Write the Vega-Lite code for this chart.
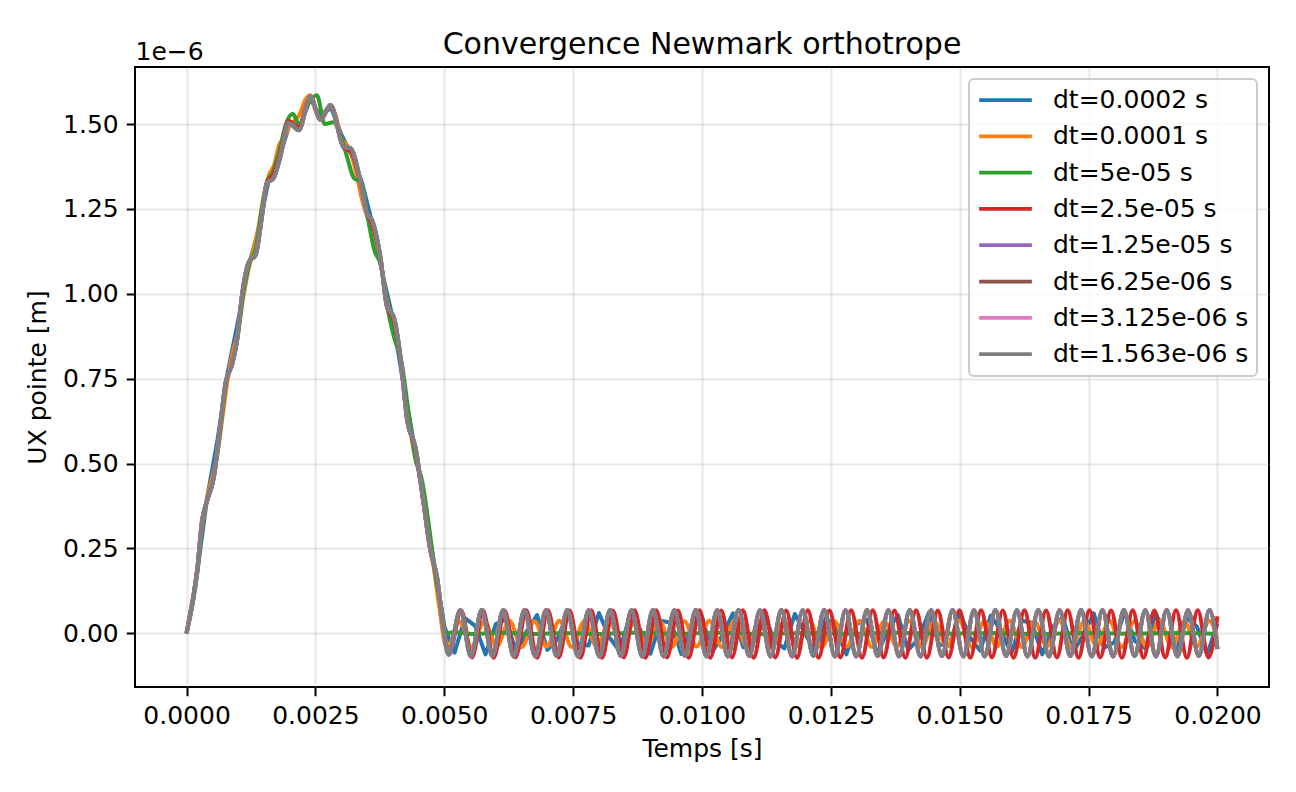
{
"$schema": "https://vega.github.io/schema/vega-lite/v6.json",
"width": 1134, "height": 620,
"autosize": {"type": "none"},
"padding": {"left": 135, "top": 67, "right": 27, "bottom": 105},
"background": "white",
"title": {"text": "Convergence Newmark orthotrope", "fontSize": 30, "font": "DejaVu Sans", "fontWeight": "normal", "color": "black", "offset": -45, "baseline": "alphabetic", "anchor": "middle"},
"datasets": {
"blue": [
{"t":0,"v":0},{"t":0.0002,"v":0.17},{"t":0.0004,"v":0.4},{"t":0.0006,"v":0.57},{"t":0.0008,"v":0.77},{"t":0.001,"v":0.92},{"t":0.0012,"v":1.08},{"t":0.0014,"v":1.19},{"t":0.0016,"v":1.34},{"t":0.0018,"v":1.4},{"t":0.002,"v":1.5},{"t":0.0022,"v":1.49},{"t":0.0024,"v":1.575},{"t":0.0026,"v":1.52},{"t":0.0028,"v":1.55},{"t":0.003,"v":1.47},{"t":0.0032,"v":1.41},{"t":0.0034,"v":1.33},{"t":0.0036,"v":1.21},{"t":0.0038,"v":1.06},{"t":0.004,"v":0.93},{"t":0.0042,"v":0.74},{"t":0.0044,"v":0.57},{"t":0.0046,"v":0.39},{"t":0.0048,"v":0.21},{"t":0.005,"v":0.02},
{"t":0.0052,"v":-0.057},{"t":0.0054,"v":0.045},{"t":0.0056,"v":0.022},{"t":0.0058,"v":-0.062},{"t":0.006,"v":0.027},{"t":0.0062,"v":0.041},{"t":0.0064,"v":-0.059},{"t":0.0066,"v":0.006},{"t":0.0068,"v":0.054},{"t":0.007,"v":-0.049},
{"t":0.0072,"v":-0.016},{"t":0.0074,"v":0.061},{"t":0.0076,"v":-0.032},{"t":0.0078,"v":-0.036},{"t":0.008,"v":0.06},{"t":0.0082,"v":-0.011},{"t":0.0084,"v":-0.052},{"t":0.0086,"v":0.052},{"t":0.0088,"v":0.011},{"t":0.009,"v":-0.06},
{"t":0.0092,"v":0.037},{"t":0.0094,"v":0.031},{"t":0.0096,"v":-0.061},{"t":0.0098,"v":0.017},{"t":0.01,"v":0.048},{"t":0.0102,"v":-0.055},{"t":0.0104,"v":-0.005},{"t":0.0106,"v":0.059},{"t":0.0108,"v":-0.041},{"t":0.011,"v":-0.026},
{"t":0.0112,"v":0.062},{"t":0.0114,"v":-0.022},{"t":0.0116,"v":-0.044},{"t":0.0118,"v":0.057},{"t":0.012,"v":-0.001},{"t":0.0122,"v":-0.057},{"t":0.0124,"v":0.045},{"t":0.0126,"v":0.021},{"t":0.0128,"v":-0.062},{"t":0.013,"v":0.028},
{"t":0.0132,"v":0.04},{"t":0.0134,"v":-0.059},{"t":0.0136,"v":0.006},{"t":0.0138,"v":0.054},{"t":0.014,"v":-0.049},{"t":0.0142,"v":-0.016},{"t":0.0144,"v":0.061},{"t":0.0146,"v":-0.033},{"t":0.0148,"v":-0.036},{"t":0.015,"v":0.061},
{"t":0.0152,"v":-0.012},{"t":0.0154,"v":-0.051},{"t":0.0156,"v":0.052},{"t":0.0158,"v":0.01},{"t":0.016,"v":-0.06},{"t":0.0162,"v":0.037},{"t":0.0164,"v":0.031},{"t":0.0166,"v":-0.062},{"t":0.0168,"v":0.018},{"t":0.017,"v":0.048},
{"t":0.0172,"v":-0.055},{"t":0.0174,"v":-0.004},{"t":0.0176,"v":0.059},{"t":0.0178,"v":-0.042},{"t":0.018,"v":-0.026},{"t":0.0182,"v":0.062},{"t":0.0184,"v":-0.023},{"t":0.0186,"v":-0.044},{"t":0.0188,"v":0.058},{"t":0.019,"v":-0.001},
{"t":0.0192,"v":-0.056},{"t":0.0194,"v":0.046},{"t":0.0196,"v":0.02},{"t":0.0198,"v":-0.062},{"t":0.02,"v":0.028}
],
"orange": [
{"t":0,"v":0},{"t":0.0002,"v":0.18},{"t":0.0003,"v":0.31},{"t":0.0004,"v":0.4},{"t":0.0005,"v":0.46},{"t":0.0006,"v":0.53},{"t":0.0007,"v":0.64},{"t":0.0008,"v":0.75},{"t":0.0009,"v":0.83},{"t":0.001,"v":0.89},{"t":0.0011,"v":0.99},{"t":0.0012,"v":1.07},{"t":0.0013,"v":1.13},{"t":0.0014,"v":1.2},{"t":0.0015,"v":1.29},{"t":0.0016,"v":1.35},{"t":0.0017,"v":1.38},{"t":0.0018,"v":1.44},{"t":0.0019,"v":1.46},{"t":0.002,"v":1.5},{"t":0.0021,"v":1.51},{"t":0.0022,"v":1.53},{"t":0.0023,"v":1.57},{"t":0.0024,"v":1.585},{"t":0.0025,"v":1.54},{"t":0.0026,"v":1.52},{"t":0.0027,"v":1.54},{"t":0.0028,"v":1.55},{"t":0.0029,"v":1.52},{"t":0.003,"v":1.46},{"t":0.0031,"v":1.44},{"t":0.0032,"v":1.41},{"t":0.0033,"v":1.35},{"t":0.0034,"v":1.28},{"t":0.0035,"v":1.23},{"t":0.0036,"v":1.2},{"t":0.0037,"v":1.14},{"t":0.0038,"v":1.06},{"t":0.0039,"v":0.97},{"t":0.004,"v":0.92},{"t":0.0041,"v":0.86},{"t":0.0042,"v":0.75},{"t":0.0043,"v":0.63},{"t":0.0044,"v":0.55},{"t":0.0045,"v":0.49},{"t":0.0046,"v":0.38},{"t":0.0047,"v":0.27},{"t":0.0048,"v":0.19},{"t":0.0049,"v":0.08},
{"t":0.00505,"v":-0.045},{"t":0.005293,"v":0.034},{"t":0.005535,"v":-0.04},{"t":0.005778,"v":0.036},{"t":0.00602,"v":-0.039},{"t":0.006263,"v":0.037},{"t":0.006505,"v":-0.04},{"t":0.006748,"v":0.036},{"t":0.00699,"v":-0.039},{"t":0.007233,"v":0.037},
{"t":0.007475,"v":-0.04},{"t":0.007718,"v":0.036},{"t":0.00796,"v":-0.039},{"t":0.008203,"v":0.037},{"t":0.008445,"v":-0.04},{"t":0.008688,"v":0.036},{"t":0.00893,"v":-0.039},{"t":0.009173,"v":0.037},{"t":0.009415,"v":-0.04},{"t":0.009658,"v":0.036},
{"t":0.0099,"v":-0.039},{"t":0.010143,"v":0.037},{"t":0.010385,"v":-0.04},{"t":0.010628,"v":0.036},{"t":0.01087,"v":-0.039},{"t":0.011113,"v":0.037},{"t":0.011355,"v":-0.04},{"t":0.011598,"v":0.036},{"t":0.01184,"v":-0.039},{"t":0.012083,"v":0.037},
{"t":0.012325,"v":-0.04},{"t":0.012568,"v":0.036},{"t":0.01281,"v":-0.039},{"t":0.013053,"v":0.037},{"t":0.013295,"v":-0.04},{"t":0.013538,"v":0.036},{"t":0.01378,"v":-0.039},{"t":0.014023,"v":0.037},{"t":0.014265,"v":-0.04},{"t":0.014508,"v":0.036},
{"t":0.01475,"v":-0.039},{"t":0.014993,"v":0.037},{"t":0.015235,"v":-0.04},{"t":0.015478,"v":0.036},{"t":0.01572,"v":-0.039},{"t":0.015963,"v":0.037},{"t":0.016205,"v":-0.04},{"t":0.016448,"v":0.036},{"t":0.01669,"v":-0.039},{"t":0.016933,"v":0.037},
{"t":0.017175,"v":-0.04},{"t":0.017418,"v":0.036},{"t":0.01766,"v":-0.039},{"t":0.017903,"v":0.037},{"t":0.018145,"v":-0.04},{"t":0.018388,"v":0.036},{"t":0.01863,"v":-0.039},{"t":0.018873,"v":0.037},{"t":0.019115,"v":-0.04},{"t":0.019358,"v":0.036},
{"t":0.0196,"v":-0.039},{"t":0.019843,"v":0.037},{"t":0.02,"v":-0.017}
],
"green": [
{"t":0,"v":0},{"t":0.00021,"v":0.18},{"t":0.00031,"v":0.33},{"t":0.00041,"v":0.4},{"t":0.00054,"v":0.47},{"t":0.00064,"v":0.58},{"t":0.00077,"v":0.74},{"t":0.0009,"v":0.8},{"t":0.001,"v":0.88},{"t":0.0011,"v":1.0},{"t":0.00122,"v":1.09},{"t":0.00134,"v":1.13},{"t":0.00146,"v":1.25},{"t":0.00156,"v":1.33},{"t":0.00168,"v":1.36},{"t":0.0018,"v":1.42},{"t":0.00193,"v":1.5},{"t":0.00206,"v":1.53},{"t":0.00218,"v":1.5},{"t":0.00238,"v":1.565},{"t":0.00253,"v":1.585},{"t":0.00268,"v":1.5},{"t":0.00285,"v":1.505},{"t":0.00298,"v":1.47},{"t":0.00312,"v":1.4},{"t":0.00325,"v":1.34},{"t":0.00338,"v":1.33},{"t":0.00352,"v":1.22},{"t":0.00364,"v":1.13},{"t":0.00378,"v":1.08},{"t":0.00391,"v":0.95},{"t":0.00403,"v":0.87},{"t":0.00417,"v":0.8},{"t":0.0043,"v":0.66},{"t":0.00443,"v":0.52},{"t":0.00457,"v":0.45},{"t":0.0047,"v":0.32},{"t":0.00483,"v":0.17},{"t":0.00495,"v":0.07},{"t":0.00503,"v":0.0},
{"t":0.0052,"v":0.003},{"t":0.0056,"v":-0.002},{"t":0.0061,"v":0.002},{"t":0.0067,"v":-0.002},{"t":0.0073,"v":0.001},{"t":0.008,"v":-0.002},{"t":0.0087,"v":0.002},{"t":0.0095,"v":-0.001},{"t":0.0103,"v":0.002},{"t":0.0111,"v":-0.002},{"t":0.012,"v":0.001},{"t":0.0129,"v":-0.001},{"t":0.0138,"v":0.002},{"t":0.0147,"v":-0.001},{"t":0.0156,"v":0.001},{"t":0.0165,"v":-0.002},{"t":0.0174,"v":0.001},{"t":0.0183,"v":-0.001},{"t":0.0192,"v":0.001},{"t":0.02,"v":-0.001}
],
"red": [
{"t":0,"v":0},{"t":0.00021,"v":0.19},{"t":0.0003,"v":0.33},{"t":0.0004,"v":0.39},{"t":0.00053,"v":0.46},{"t":0.00063,"v":0.58},{"t":0.00076,"v":0.74},{"t":0.00088,"v":0.79},{"t":0.00098,"v":0.865},{"t":0.00108,"v":1.0},{"t":0.00121,"v":1.095},{"t":0.00134,"v":1.115},{"t":0.00147,"v":1.235},{"t":0.00156,"v":1.33},{"t":0.00168,"v":1.35},{"t":0.00181,"v":1.41},{"t":0.00198,"v":1.51},{"t":0.00217,"v":1.49},{"t":0.0024,"v":1.58},{"t":0.0026,"v":1.515},{"t":0.0028,"v":1.555},{"t":0.00305,"v":1.43},{"t":0.00318,"v":1.42},{"t":0.00337,"v":1.33},{"t":0.0035,"v":1.24},{"t":0.0036,"v":1.205},{"t":0.00376,"v":1.105},{"t":0.00389,"v":0.96},{"t":0.00402,"v":0.92},{"t":0.00415,"v":0.81},{"t":0.00428,"v":0.63},{"t":0.00444,"v":0.54},{"t":0.0046,"v":0.38},{"t":0.00473,"v":0.245},{"t":0.00486,"v":0.16},{"t":0.00499,"v":0.01},{"t":0.00509,"v":-0.063},
{"t":0.00533,"v":0.067},{"t":0.00554,"v":-0.071},{"t":0.00575,"v":0.068},{"t":0.00596,"v":-0.072},{"t":0.00617,"v":0.067},{"t":0.00638,"v":-0.071},{"t":0.006591,"v":0.068},{"t":0.006801,"v":-0.072},{"t":0.007011,"v":0.068},{"t":0.007221,"v":-0.071},
{"t":0.007431,"v":0.067},{"t":0.007641,"v":-0.072},{"t":0.007851,"v":0.068},{"t":0.008061,"v":-0.072},{"t":0.008271,"v":0.067},{"t":0.008481,"v":-0.071},{"t":0.008692,"v":0.068},{"t":0.008902,"v":-0.072},{"t":0.009112,"v":0.068},{"t":0.009322,"v":-0.071},
{"t":0.009532,"v":0.067},{"t":0.009742,"v":-0.072},{"t":0.009952,"v":0.068},{"t":0.010162,"v":-0.072},{"t":0.010372,"v":0.067},{"t":0.010582,"v":-0.071},{"t":0.010793,"v":0.068},{"t":0.011003,"v":-0.072},{"t":0.011213,"v":0.068},{"t":0.011423,"v":-0.071},
{"t":0.011633,"v":0.067},{"t":0.011843,"v":-0.072},{"t":0.012053,"v":0.068},{"t":0.012263,"v":-0.072},{"t":0.012473,"v":0.067},{"t":0.012683,"v":-0.071},{"t":0.012894,"v":0.068},{"t":0.013104,"v":-0.072},{"t":0.013314,"v":0.068},{"t":0.013524,"v":-0.071},
{"t":0.013734,"v":0.067},{"t":0.013944,"v":-0.072},{"t":0.014154,"v":0.068},{"t":0.014364,"v":-0.072},{"t":0.014574,"v":0.067},{"t":0.014784,"v":-0.071},{"t":0.014995,"v":0.068},{"t":0.015205,"v":-0.072},{"t":0.015415,"v":0.068},{"t":0.015625,"v":-0.071},
{"t":0.015835,"v":0.067},{"t":0.016045,"v":-0.072},{"t":0.016255,"v":0.068},{"t":0.016465,"v":-0.072},{"t":0.016675,"v":0.067},{"t":0.016885,"v":-0.071},{"t":0.017096,"v":0.068},{"t":0.017306,"v":-0.072},{"t":0.017516,"v":0.068},{"t":0.017726,"v":-0.071},
{"t":0.017936,"v":0.067},{"t":0.018146,"v":-0.072},{"t":0.018356,"v":0.068},{"t":0.018566,"v":-0.072},{"t":0.018776,"v":0.067},{"t":0.018986,"v":-0.071},{"t":0.019197,"v":0.068},{"t":0.019407,"v":-0.072},{"t":0.019617,"v":0.068},{"t":0.019827,"v":-0.071},
{"t":0.02,"v":0.05}
],
"fine": [
{"t":0,"v":0},{"t":0.00021,"v":0.19},{"t":0.0003,"v":0.33},{"t":0.0004,"v":0.392},{"t":0.00053,"v":0.461},{"t":0.00063,"v":0.58},{"t":0.00076,"v":0.74},{"t":0.00088,"v":0.79},{"t":0.00098,"v":0.864},{"t":0.00108,"v":1.0},{"t":0.00121,"v":1.094},{"t":0.00134,"v":1.114},{"t":0.00147,"v":1.237},{"t":0.00156,"v":1.326},{"t":0.00169,"v":1.341},{"t":0.00182,"v":1.404},{"t":0.00198,"v":1.503},{"t":0.00218,"v":1.482},{"t":0.0024,"v":1.581},{"t":0.0026,"v":1.512},{"t":0.00279,"v":1.556},{"t":0.00305,"v":1.433},{"t":0.00318,"v":1.429},{"t":0.00337,"v":1.335},{"t":0.0035,"v":1.237},{"t":0.0036,"v":1.217},{"t":0.00376,"v":1.109},{"t":0.00389,"v":0.962},{"t":0.00402,"v":0.932},{"t":0.00415,"v":0.814},{"t":0.00428,"v":0.628},{"t":0.00444,"v":0.549},{"t":0.0046,"v":0.383},{"t":0.00473,"v":0.245},{"t":0.00486,"v":0.166},{"t":0.00499,"v":0.009},{"t":0.00508,"v":-0.062},
{"t":0.00531,"v":0.068},{"t":0.005518,"v":-0.068},{"t":0.005725,"v":0.069},{"t":0.005933,"v":-0.067},{"t":0.006141,"v":0.068},{"t":0.006348,"v":-0.068},{"t":0.006556,"v":0.069},{"t":0.006764,"v":-0.068},{"t":0.006971,"v":0.068},{"t":0.007179,"v":-0.067},
{"t":0.007387,"v":0.069},{"t":0.007594,"v":-0.068},{"t":0.007802,"v":0.068},{"t":0.00801,"v":-0.068},{"t":0.008217,"v":0.069},{"t":0.008425,"v":-0.067},{"t":0.008632,"v":0.068},{"t":0.00884,"v":-0.068},{"t":0.009048,"v":0.069},{"t":0.009255,"v":-0.068},
{"t":0.009463,"v":0.068},{"t":0.009671,"v":-0.067},{"t":0.009878,"v":0.069},{"t":0.010086,"v":-0.068},{"t":0.010294,"v":0.068},{"t":0.010501,"v":-0.068},{"t":0.010709,"v":0.069},{"t":0.010917,"v":-0.067},{"t":0.011124,"v":0.068},{"t":0.011332,"v":-0.068},
{"t":0.01154,"v":0.069},{"t":0.011747,"v":-0.068},{"t":0.011955,"v":0.068},{"t":0.012163,"v":-0.067},{"t":0.01237,"v":0.069},{"t":0.012578,"v":-0.068},{"t":0.012785,"v":0.068},{"t":0.012993,"v":-0.068},{"t":0.013201,"v":0.069},{"t":0.013408,"v":-0.067},
{"t":0.013616,"v":0.068},{"t":0.013824,"v":-0.068},{"t":0.014031,"v":0.069},{"t":0.014239,"v":-0.068},{"t":0.014447,"v":0.068},{"t":0.014654,"v":-0.067},{"t":0.014862,"v":0.069},{"t":0.01507,"v":-0.068},{"t":0.015277,"v":0.068},{"t":0.015485,"v":-0.068},
{"t":0.015693,"v":0.069},{"t":0.0159,"v":-0.067},{"t":0.016108,"v":0.068},{"t":0.016316,"v":-0.068},{"t":0.016523,"v":0.069},{"t":0.016731,"v":-0.068},{"t":0.016938,"v":0.068},{"t":0.017146,"v":-0.067},{"t":0.017354,"v":0.069},{"t":0.017561,"v":-0.068},
{"t":0.017769,"v":0.068},{"t":0.017977,"v":-0.068},{"t":0.018184,"v":0.069},{"t":0.018392,"v":-0.067},{"t":0.0186,"v":0.068},{"t":0.018807,"v":-0.068},{"t":0.019015,"v":0.069},{"t":0.019223,"v":-0.068},{"t":0.01943,"v":0.068},{"t":0.019638,"v":-0.067},
{"t":0.019846,"v":0.069},{"t":0.02,"v":-0.046}
],
"note": [{"label": "1e\u22126"}]
},
"layer": [
{
"encoding": {
"x": {"field": "t", "type": "quantitative", "scale": {"domain": [-0.001, 0.021], "nice": false, "zero": false}, "axis": {"orient": "bottom", "values": [0, 0.0025, 0.005, 0.0075, 0.01, 0.0125, 0.015, 0.0175, 0.02], "format": ".4f", "title": "Temps [s]", "labelFlush": false}},
"y": {"field": "v", "type": "quantitative", "scale": {"domain": [-0.158, 1.668], "nice": false, "zero": false}, "axis": {"values": [0, 0.25, 0.5, 0.75, 1, 1.25, 1.5], "format": ".2f", "title": "UX pointe [m]"}}
},
"layer": [
{"data": {"name": "blue"}, "mark": {"type": "line", "interpolate": "linear", "strokeWidth": 4, "strokeJoin": "round"},
 "encoding": {"color": {"datum": "dt=0.0002 s", "type": "nominal", "scale": {"domain": ["dt=0.0002 s","dt=0.0001 s","dt=5e-05 s","dt=2.5e-05 s","dt=1.25e-05 s","dt=6.25e-06 s","dt=3.125e-06 s","dt=1.563e-06 s"], "range": ["#1f77b4","#ff7f0e","#2ca02c","#d62728","#9467bd","#8c564b","#e377c2","#7f7f7f"]}, "legend": {"title": null}}}},
{"data": {"name": "orange"}, "mark": {"type": "line", "interpolate": "monotone", "strokeWidth": 4},
 "encoding": {"color": {"datum": "dt=0.0001 s", "type": "nominal"}}},
{"data": {"name": "green"}, "mark": {"type": "line", "interpolate": "monotone", "strokeWidth": 4},
 "encoding": {"color": {"datum": "dt=5e-05 s", "type": "nominal"}}},
{"data": {"name": "red"}, "mark": {"type": "line", "interpolate": "monotone", "strokeWidth": 4},
 "encoding": {"color": {"datum": "dt=2.5e-05 s", "type": "nominal"}}},
{"data": {"name": "fine"}, "mark": {"type": "line", "interpolate": "monotone", "strokeWidth": 4},
 "encoding": {"color": {"datum": "dt=1.25e-05 s", "type": "nominal"}}},
{"data": {"name": "fine"}, "mark": {"type": "line", "interpolate": "monotone", "strokeWidth": 4},
 "encoding": {"color": {"datum": "dt=6.25e-06 s", "type": "nominal"}}},
{"data": {"name": "fine"}, "mark": {"type": "line", "interpolate": "monotone", "strokeWidth": 4},
 "encoding": {"color": {"datum": "dt=3.125e-06 s", "type": "nominal"}}},
{"data": {"name": "fine"}, "mark": {"type": "line", "interpolate": "monotone", "strokeWidth": 4},
 "encoding": {"color": {"datum": "dt=1.563e-06 s", "type": "nominal"}}}
]
},
{"data": {"name": "note"}, "mark": {"type": "rule", "strokeOpacity": 0, "opacity": 0},
 "encoding": {"x": {"datum": -0.001, "type": "quantitative", "scale": {"domain": [-0.001, 0.021], "nice": false, "zero": false},
   "axis": {"orient": "top", "values": [-0.001], "labelExpr": "'1e\u22126'", "labelAlign": "left", "labelBaseline": "alphabetic", "labelPadding": 8, "labelFlush": false, "ticks": false, "tickSize": 0, "grid": false, "domain": false, "title": null, "labelFontSize": 25, "labelColor": "black"}}}}
],
"resolve": {"axis": {"x": "independent"}},
"config": {
"font": "DejaVu Sans",
"view": {"stroke": "black", "strokeWidth": 2},
"axis": {"domain": false, "grid": true, "gridColor": "#b0b0b0", "gridOpacity": 0.3, "gridWidth": 2, "tickColor": "black", "tickWidth": 2, "tickSize": 8.75, "labelFont": "DejaVu Sans", "labelFontSize": 25, "labelColor": "black", "labelPadding": 8, "labelOverlap": false, "titleFont": "DejaVu Sans", "titleFontSize": 25, "titleFontWeight": "normal", "titleColor": "black"},
"axisX": {"titlePadding": 8},
"axisY": {"titlePadding": 12},
"legend": {"orient": "top-right", "offset": 12, "padding": 8, "fillColor": "rgba(255,255,255,0.8)", "strokeColor": "#cccccc", "strokeWidth": 2, "cornerRadius": 5, "labelFont": "DejaVu Sans", "labelFontSize": 25, "labelColor": "black", "labelLimit": 400, "symbolType": "stroke", "symbolStrokeWidth": 3.75, "symbolSize": 2777, "clipHeight": 26, "rowPadding": 10.3, "labelOffset": 19}
}
}
